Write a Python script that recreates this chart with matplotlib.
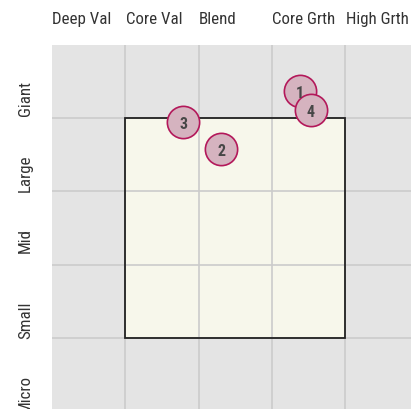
import matplotlib
matplotlib.use("Agg")
import matplotlib.pyplot as plt
from matplotlib.patches import Rectangle

plt.rcParams['font.family'] = ['Roboto Condensed', 'Roboto', 'DejaVu Sans']

col_labels = ["Deep Val", "Core Val", "Blend", "Core Grth", "High Grth"]
row_labels = ["Giant", "Large", "Mid", "Small", "Micro"]
point_ids = ["1", "2", "3", "4"]
point_x = [3.38, 2.31, 1.79, 3.53]
point_y = [0.63, 1.42, 1.06, 0.89]
box_x = [1, 4]
box_y = [1, 4]

fig = plt.figure(figsize=(4.11, 4.09), dpi=100)
ax = fig.add_axes([52/411, (409-411.3)/409, 366.5/411, 366.6/409])
ax.set_facecolor('#e4e4e4')
ax.set_xlim(0, 5)
ax.set_ylim(5, 0)
for s in ax.spines.values():
    s.set_visible(False)
ax.set_xticks([])
ax.set_yticks([])

for i in range(1, 5):
    ax.axvline(i, color='#cbcbcb', lw=1.2, zorder=1)
    ax.axhline(i, color='#cbcbcb', lw=1.2, zorder=1)

ax.add_patch(Rectangle((box_x[0], box_y[0]), box_x[1]-box_x[0], box_y[1]-box_y[0],
                       facecolor='#f7f7eb', edgecolor='none', zorder=0.5))
ax.add_patch(Rectangle((box_x[0], box_y[0]), box_x[1]-box_x[0], box_y[1]-box_y[0],
                       facecolor='none', edgecolor='#222222', lw=1.3, zorder=2))

for i, lab in enumerate(col_labels):
    ax.text(i + 0.005, -0.34, lab, ha='left', va='center', fontsize=12.2,
            color='#333333', clip_on=False)
for i, lab in enumerate(row_labels):
    ax.text(-0.36, i + 0.5, lab, ha='center', va='top', rotation=90,
            fontsize=12.2, color='#333333', clip_on=False)

for pid, x, y in zip(point_ids, point_x, point_y):
    ax.scatter([x], [y], s=540, facecolor='#d5b3bf', edgecolor='#b3185a',
               linewidth=1.2, zorder=3, clip_on=False)
    ax.text(x, y + 0.03, pid, ha='center', va='center', fontsize=11.5, fontweight='bold',
            color='#474747', zorder=4)

fig.savefig('out.png', dpi=100)
